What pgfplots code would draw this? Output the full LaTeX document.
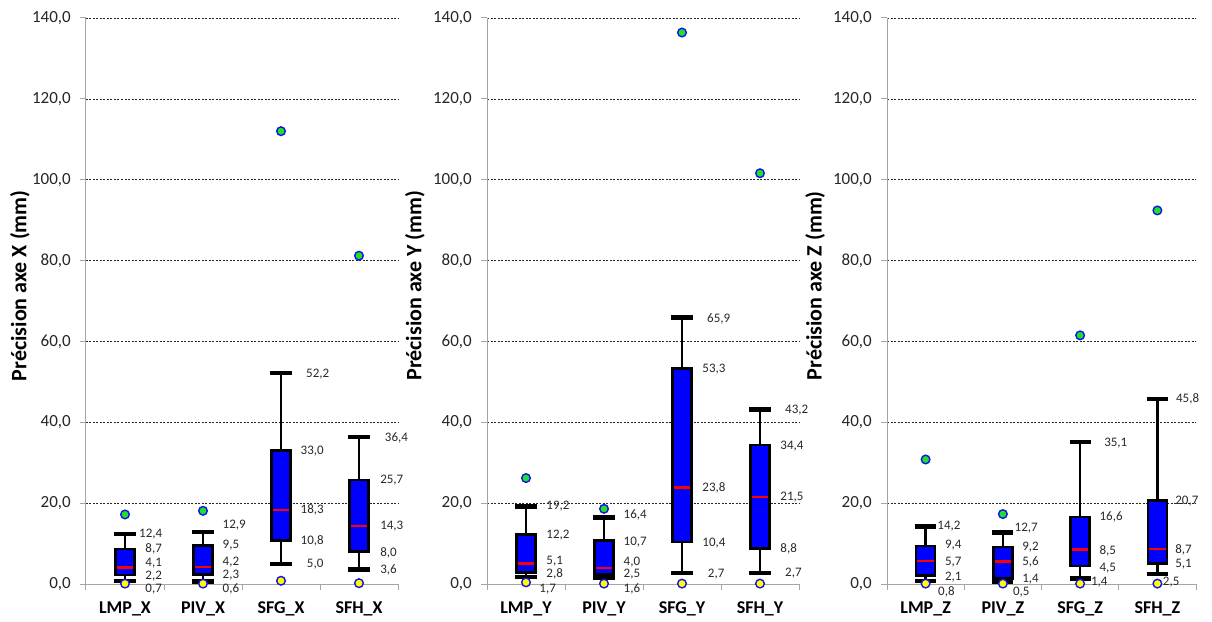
\documentclass[border=0pt]{standalone}
\usepackage{fontspec}
\setmainfont{Carlito}
\usepackage{pgfplots}
\pgfplotsset{compat=1.18}
\usepgfplotslibrary{statistics}
\usepackage{pgfplotstable}

\definecolor{boxblue}{RGB}{0,0,255}
\definecolor{medred}{RGB}{255,0,0}
\definecolor{dotgreen}{RGB}{30,225,40}
\definecolor{dotyellow}{RGB}{255,255,0}
\definecolor{dotblue}{RGB}{20,20,230}
\definecolor{axisgray}{RGB}{165,165,165}
\definecolor{lblgray}{RGB}{40,40,40}

% ---------- data ----------
\pgfplotstableread{
lab x y
12,4 1.18 12.3
8,7 1.26 8.7
4,1 1.26 5.2
2,2 1.26 2.0
0,7 1.26 -1.3
12,9 2.25 14.6
9,5 2.25 9.5
4,2 2.25 5.4
2,3 2.25 2.2
0,6 2.25 -1.3
52,2 3.32 52.0
33,0 3.25 32.9
18,3 3.25 18.3
10,8 3.25 10.6
5,0 3.33 4.9
36,4 4.33 36.1
25,7 4.27 25.6
14,3 4.27 14.2
8,0 4.27 7.8
3,6 4.27 3.5
}\labX
\pgfplotstableread{
lab x y
19,2 1.26 19.3
12,2 1.26 12.0
5,1 1.26 5.7
2,8 1.26 2.6
1,7 1.17 -1.3
16,4 2.25 17.1
10,7 2.25 10.3
4,0 2.25 5.5
2,5 2.25 2.4
1,6 2.25 -1.3
65,9 3.32 65.5
53,3 3.26 53.2
23,8 3.26 23.7
10,4 3.26 10.2
2,7 3.33 2.4
43,2 4.32 43.0
34,4 4.26 34.1
21,5 4.26 21.4
8,8 4.26 8.7
2,7 4.32 2.6
}\labY
\pgfplotstableread{
lab x y
14,2 1.15 14.2
9,4 1.25 9.5
5,7 1.25 5.5
2,1 1.25 1.8
0,8 1.16 -1.9
12,7 2.15 13.9
9,2 2.25 9.2
5,6 2.25 5.5
1,4 2.25 1.2
0,5 2.13 -1.9
35,1 3.31 34.8
16,6 3.25 16.7
8,5 3.25 8.2
4,5 3.25 4.0
1,4 3.14 0.4
45,8 4.24 45.8
20,7 4.23 20.5
8,7 4.23 8.4
5,1 4.23 4.9
2,5 4.07 0.4
}\labZ

\newcommand{\bx}[6]{\addplot[boxplot prepared={draw position=#1, lower whisker=#2, lower quartile=#3, median=#4, upper quartile=#5, upper whisker=#6}] coordinates {};}
\newcommand{\lbls}[1]{\addplot[only marks, mark=*, mark size=0pt, mark options={draw=none,fill=none}, nodes near coords, point meta=explicit symbolic, nodes near coords style={anchor=west, inner sep=0pt, font=\fontsize{13}{15}\selectfont, text=lblgray}] table[x=x, y=y, meta=lab] {#1};}

\pgfplotsset{
  panel/.style={
    scale only axis, width=312pt, height=566pt,
    xmin=0.5, xmax=4.5, ymin=0, ymax=140,
    clip=false,
    axis x line*=bottom, axis y line*=left,
    axis line style={-, draw=axisgray, line width=1pt},
    ytick={0,20,...,140},
    xtick={1,2,3,4},
    minor xtick={0.5,1.5,2.5,3.5,4.5},
    tick align=outside,
    major tick length=6pt, minor tick length=6pt,
    major x tick style={draw=none},
    minor x tick style={draw=axisgray, line width=1pt},
    ytick style={draw=axisgray, line width=1pt},
    ymajorgrids,
    major grid style={draw=black!85, line width=0.7pt, dash pattern=on 2pt off 1.5pt},
    /pgf/number format/fixed, /pgf/number format/fixed zerofill,
    /pgf/number format/precision=1, /pgf/number format/use comma,
    /pgf/number format/assume math mode=true,
    yticklabel style={font=\fontsize{17}{20}\selectfont, text=black!85, anchor=east, inner sep=0pt, xshift=-9pt},
    xticklabel style={font=\fontsize{18}{20}\selectfont\bfseries, anchor=base, yshift=-23pt},
    ylabel style={font=\fontsize{22}{24}\selectfont\bfseries, anchor=center},
    boxplot/draw direction=y,
    boxplot/box extend=0.245,
    boxplot/whisker extend=0.27,
    boxplot/every box/.style={draw=black, line width=2.5pt, fill=boxblue},
    boxplot/every median/.style={draw=medred, line width=2.6pt},
    boxplot/draw/median/.code={%
      \draw[draw=medred, line width=2.6pt]
        (boxplot box cs:\pgfplotsboxplotvalue{median},0.06) --
        (boxplot box cs:\pgfplotsboxplotvalue{median},0.94);},
    boxplot/draw/lower whisker/.code={%
      \draw[black, line width=2.4pt]
        (boxplot cs:\pgfplotsboxplotvalue{lower quartile}) --
        (boxplot cs:\pgfplotsboxplotvalue{lower whisker});
      \draw[black, line width=4.4pt]
        (boxplot whisker cs:\pgfplotsboxplotvalue{lower whisker},0) --
        (boxplot whisker cs:\pgfplotsboxplotvalue{lower whisker},1);},
    boxplot/draw/upper whisker/.code={%
      \draw[black, line width=2.4pt]
        (boxplot cs:\pgfplotsboxplotvalue{upper quartile}) --
        (boxplot cs:\pgfplotsboxplotvalue{upper whisker});
      \draw[black, line width=4.4pt]
        (boxplot whisker cs:\pgfplotsboxplotvalue{upper whisker},0) --
        (boxplot whisker cs:\pgfplotsboxplotvalue{upper whisker},1);},
  },
  greendots/.style={only marks, mark=*, mark size=4.3pt, mark options={fill=dotgreen, draw=dotblue, line width=1.4pt}},
  yellowdots/.style={only marks, mark=*, mark size=4.3pt, mark options={fill=dotyellow, draw=dotblue, line width=1.4pt}},
}

\begin{document}
\begin{tikzpicture}
\path[use as bounding box] (0,0) rectangle (1212pt,621pt);

% ---------- Panel X ----------
\begin{axis}[panel, at={(86pt,37pt)}, anchor=south west,
  xticklabels={LMP\_X,PIV\_X,SFG\_X,SFH\_X},
  ylabel={Précision axe X (mm)},
  ylabel style={at={(axis description cs:-0.212,0.527)}}]
\bx{1}{0.7}{2.2}{4.1}{8.7}{12.4}
\bx{2}{0.6}{2.3}{4.2}{9.5}{12.9}
\bx{3}{5.0}{10.8}{18.3}{33.0}{52.2}
\bx{4}{3.6}{8.0}{14.3}{25.7}{36.4}
\addplot[greendots] coordinates {(1,17.2) (2,18.1) (3,112.0) (4,81.2)};
\addplot[yellowdots] coordinates {(1,0.1) (2,0.1) (3,0.8) (4,0.2)};
\lbls{\labX}
\end{axis}

% ---------- Panel Y ----------
\begin{axis}[panel, at={(487pt,37pt)}, anchor=south west,
  xticklabels={LMP\_Y,PIV\_Y,SFG\_Y,SFH\_Y},
  ylabel={Précision axe Y (mm)},
  ylabel style={at={(axis description cs:-0.231,0.527)}}]
\bx{1}{1.7}{2.8}{5.1}{12.2}{19.2}
\bx{2}{1.6}{2.5}{4.0}{10.7}{16.4}
\bx{3}{2.7}{10.4}{23.8}{53.3}{65.9}
\bx{4}{2.7}{8.8}{21.5}{34.4}{43.2}
\addplot[greendots] coordinates {(1,26.2) (2,18.6) (3,136.4) (4,101.6)};
\addplot[yellowdots] coordinates {(1,0.4) (2,0.1) (3,0.1) (4,0.1)};
\lbls{\labY}
\end{axis}

% ---------- Panel Z ----------
\begin{axis}[panel, at={(887pt,37pt)}, anchor=south west, width=309pt,
  xticklabels={LMP\_Z,PIV\_Z,SFG\_Z,SFH\_Z},
  ylabel={Précision axe Z (mm)},
  ylabel style={at={(axis description cs:-0.233,0.527)}}]
\bx{1}{0.8}{2.1}{5.7}{9.4}{14.2}
\bx{2}{0.5}{1.4}{5.6}{9.2}{12.7}
\bx{3}{1.4}{4.5}{8.5}{16.6}{35.1}
\bx{4}{2.5}{5.1}{8.7}{20.7}{45.8}
\addplot[greendots] coordinates {(1,30.8) (2,17.3) (3,61.5) (4,92.4)};
\addplot[yellowdots] coordinates {(1,0.1) (2,0.1) (3,0.1) (4,0.1)};
\lbls{\labZ}
\end{axis}
\end{tikzpicture}
\end{document}
